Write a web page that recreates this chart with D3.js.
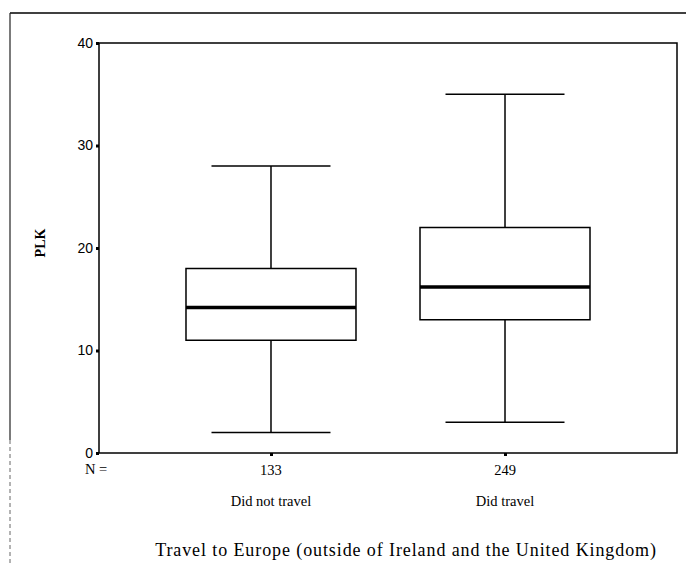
<!DOCTYPE html>
<html>
<head>
<meta charset="utf-8">
<script src="https://cdn.jsdelivr.net/npm/d3@7"></script>
<style>
  body { margin: 0; background: #fff; }
  svg { display: block; }
  .serif { font-family: "Liberation Serif", "DejaVu Serif", serif; }
</style>
</head>
<body>
<svg id="chart" width="686" height="565"></svg>
<script>
// values
var categories = ["Did not travel", "Did travel"];
var counts = [133, 249];
var lowWhisker = [2, 3];
var q1 = [11, 13];
var median = [14.2, 16.2];
var q3 = [18, 22];
var highWhisker = [28, 35];
var yTicks = [0, 10, 20, 30, 40];

var svg = d3.select("#chart")
  , plotLeft = 99, plotTop = 43, plotRight = 677, plotBottom = 453
  , boxWidth = 170, capWidth = 119;

var x = d3.scalePoint().domain(categories).range([plotLeft, plotRight]).padding(0.735);
var y = d3.scaleLinear().domain([0, 40]).range([plotBottom, plotTop]);

// outer page frame (scan edge)
svg.append("line").attr("x1", 10).attr("x2", 686).attr("y1", 13).attr("y2", 13)
  .attr("stroke", "#000").attr("stroke-width", 1.5);
svg.append("line").attr("x1", 10).attr("x2", 10).attr("y1", 13).attr("y2", 440)
  .attr("stroke", "#222").attr("stroke-width", 1.2);
svg.append("line").attr("x1", 10).attr("x2", 10).attr("y1", 440).attr("y2", 565)
  .attr("stroke", "#666").attr("stroke-width", 1).attr("stroke-dasharray", "4,3");

// plot frame
svg.append("rect").attr("x", plotLeft).attr("y", plotTop)
  .attr("width", plotRight - plotLeft).attr("height", plotBottom - plotTop)
  .attr("fill", "none").attr("stroke", "#000").attr("stroke-width", 1.5);

// y axis
var yAxis = svg.append("g").attr("transform", "translate(" + plotLeft + ",0)")
  .call(d3.axisLeft(y).tickValues(yTicks).tickSize(3).tickPadding(3));
yAxis.select(".domain").remove();
yAxis.selectAll(".tick line").attr("stroke-width", 3);
yAxis.selectAll(".tick text")
  .attr("font-family", "'Liberation Sans', Arial, sans-serif")
  .attr("font-size", 14).attr("fill", "#000");

// x ticks
var xAxis = svg.append("g").attr("transform", "translate(0," + plotBottom + ")")
  .call(d3.axisBottom(x).tickSize(3).tickFormat(""));
xAxis.select(".domain").remove();
xAxis.selectAll(".tick line").attr("stroke-width", 3);

// boxes
var data = categories.map(function(c, i) {
  return { cat: c, n: counts[i], lo: lowWhisker[i], q1: q1[i], med: median[i], q3: q3[i], hi: highWhisker[i] };
});

var g = svg.append("g").selectAll("g").data(data).enter().append("g")
  .attr("stroke", "#000").attr("fill", "none");

g.append("line").attr("x1", function(d) { return x(d.cat); }).attr("x2", function(d) { return x(d.cat); })
  .attr("y1", function(d) { return y(d.hi); }).attr("y2", function(d) { return y(d.q3); })
  .attr("stroke-width", 1.5);
g.append("line").attr("x1", function(d) { return x(d.cat); }).attr("x2", function(d) { return x(d.cat); })
  .attr("y1", function(d) { return y(d.q1); }).attr("y2", function(d) { return y(d.lo); })
  .attr("stroke-width", 1.5);
g.append("line").attr("x1", function(d) { return x(d.cat) - capWidth / 2; })
  .attr("x2", function(d) { return x(d.cat) + capWidth / 2; })
  .attr("y1", function(d) { return y(d.hi); }).attr("y2", function(d) { return y(d.hi); })
  .attr("stroke-width", 1.5);
g.append("line").attr("x1", function(d) { return x(d.cat) - capWidth / 2; })
  .attr("x2", function(d) { return x(d.cat) + capWidth / 2; })
  .attr("y1", function(d) { return y(d.lo); }).attr("y2", function(d) { return y(d.lo); })
  .attr("stroke-width", 1.5);
g.append("rect").attr("x", function(d) { return x(d.cat) - boxWidth / 2; })
  .attr("y", function(d) { return y(d.q3); })
  .attr("width", boxWidth)
  .attr("height", function(d) { return y(d.q1) - y(d.q3); })
  .attr("stroke-width", 1.5);
g.append("line").attr("x1", function(d) { return x(d.cat) - boxWidth / 2; })
  .attr("x2", function(d) { return x(d.cat) + boxWidth / 2; })
  .attr("y1", function(d) { return y(d.med); }).attr("y2", function(d) { return y(d.med); })
  .attr("stroke-width", 3.5);

// labels under axis
var labels = svg.append("g").attr("class", "serif").attr("fill", "#000").attr("font-size", 14.5);
labels.append("text").attr("x", 85).attr("y", 474).text("N =");
labels.selectAll(".n").data(data).enter().append("text")
  .attr("x", function(d) { return x(d.cat); }).attr("y", 475)
  .attr("text-anchor", "middle").text(function(d) { return d.n; });
labels.selectAll(".cat").data(data).enter().append("text")
  .attr("x", function(d) { return x(d.cat); }).attr("y", 506)
  .attr("text-anchor", "middle").text(function(d) { return d.cat; });

svg.append("text").attr("class", "serif")
  .attr("x", 406).attr("y", 556).attr("text-anchor", "middle")
  .attr("font-size", 18).attr("letter-spacing", 0.9)
  .text("Travel to Europe (outside of Ireland and the United Kingdom)");

svg.append("text").attr("class", "serif")
  .attr("transform", "translate(45,243) rotate(-90)")
  .attr("text-anchor", "middle").attr("font-size", 14).attr("font-weight", "bold")
  .text("PLK");
</script>
</body>
</html>
